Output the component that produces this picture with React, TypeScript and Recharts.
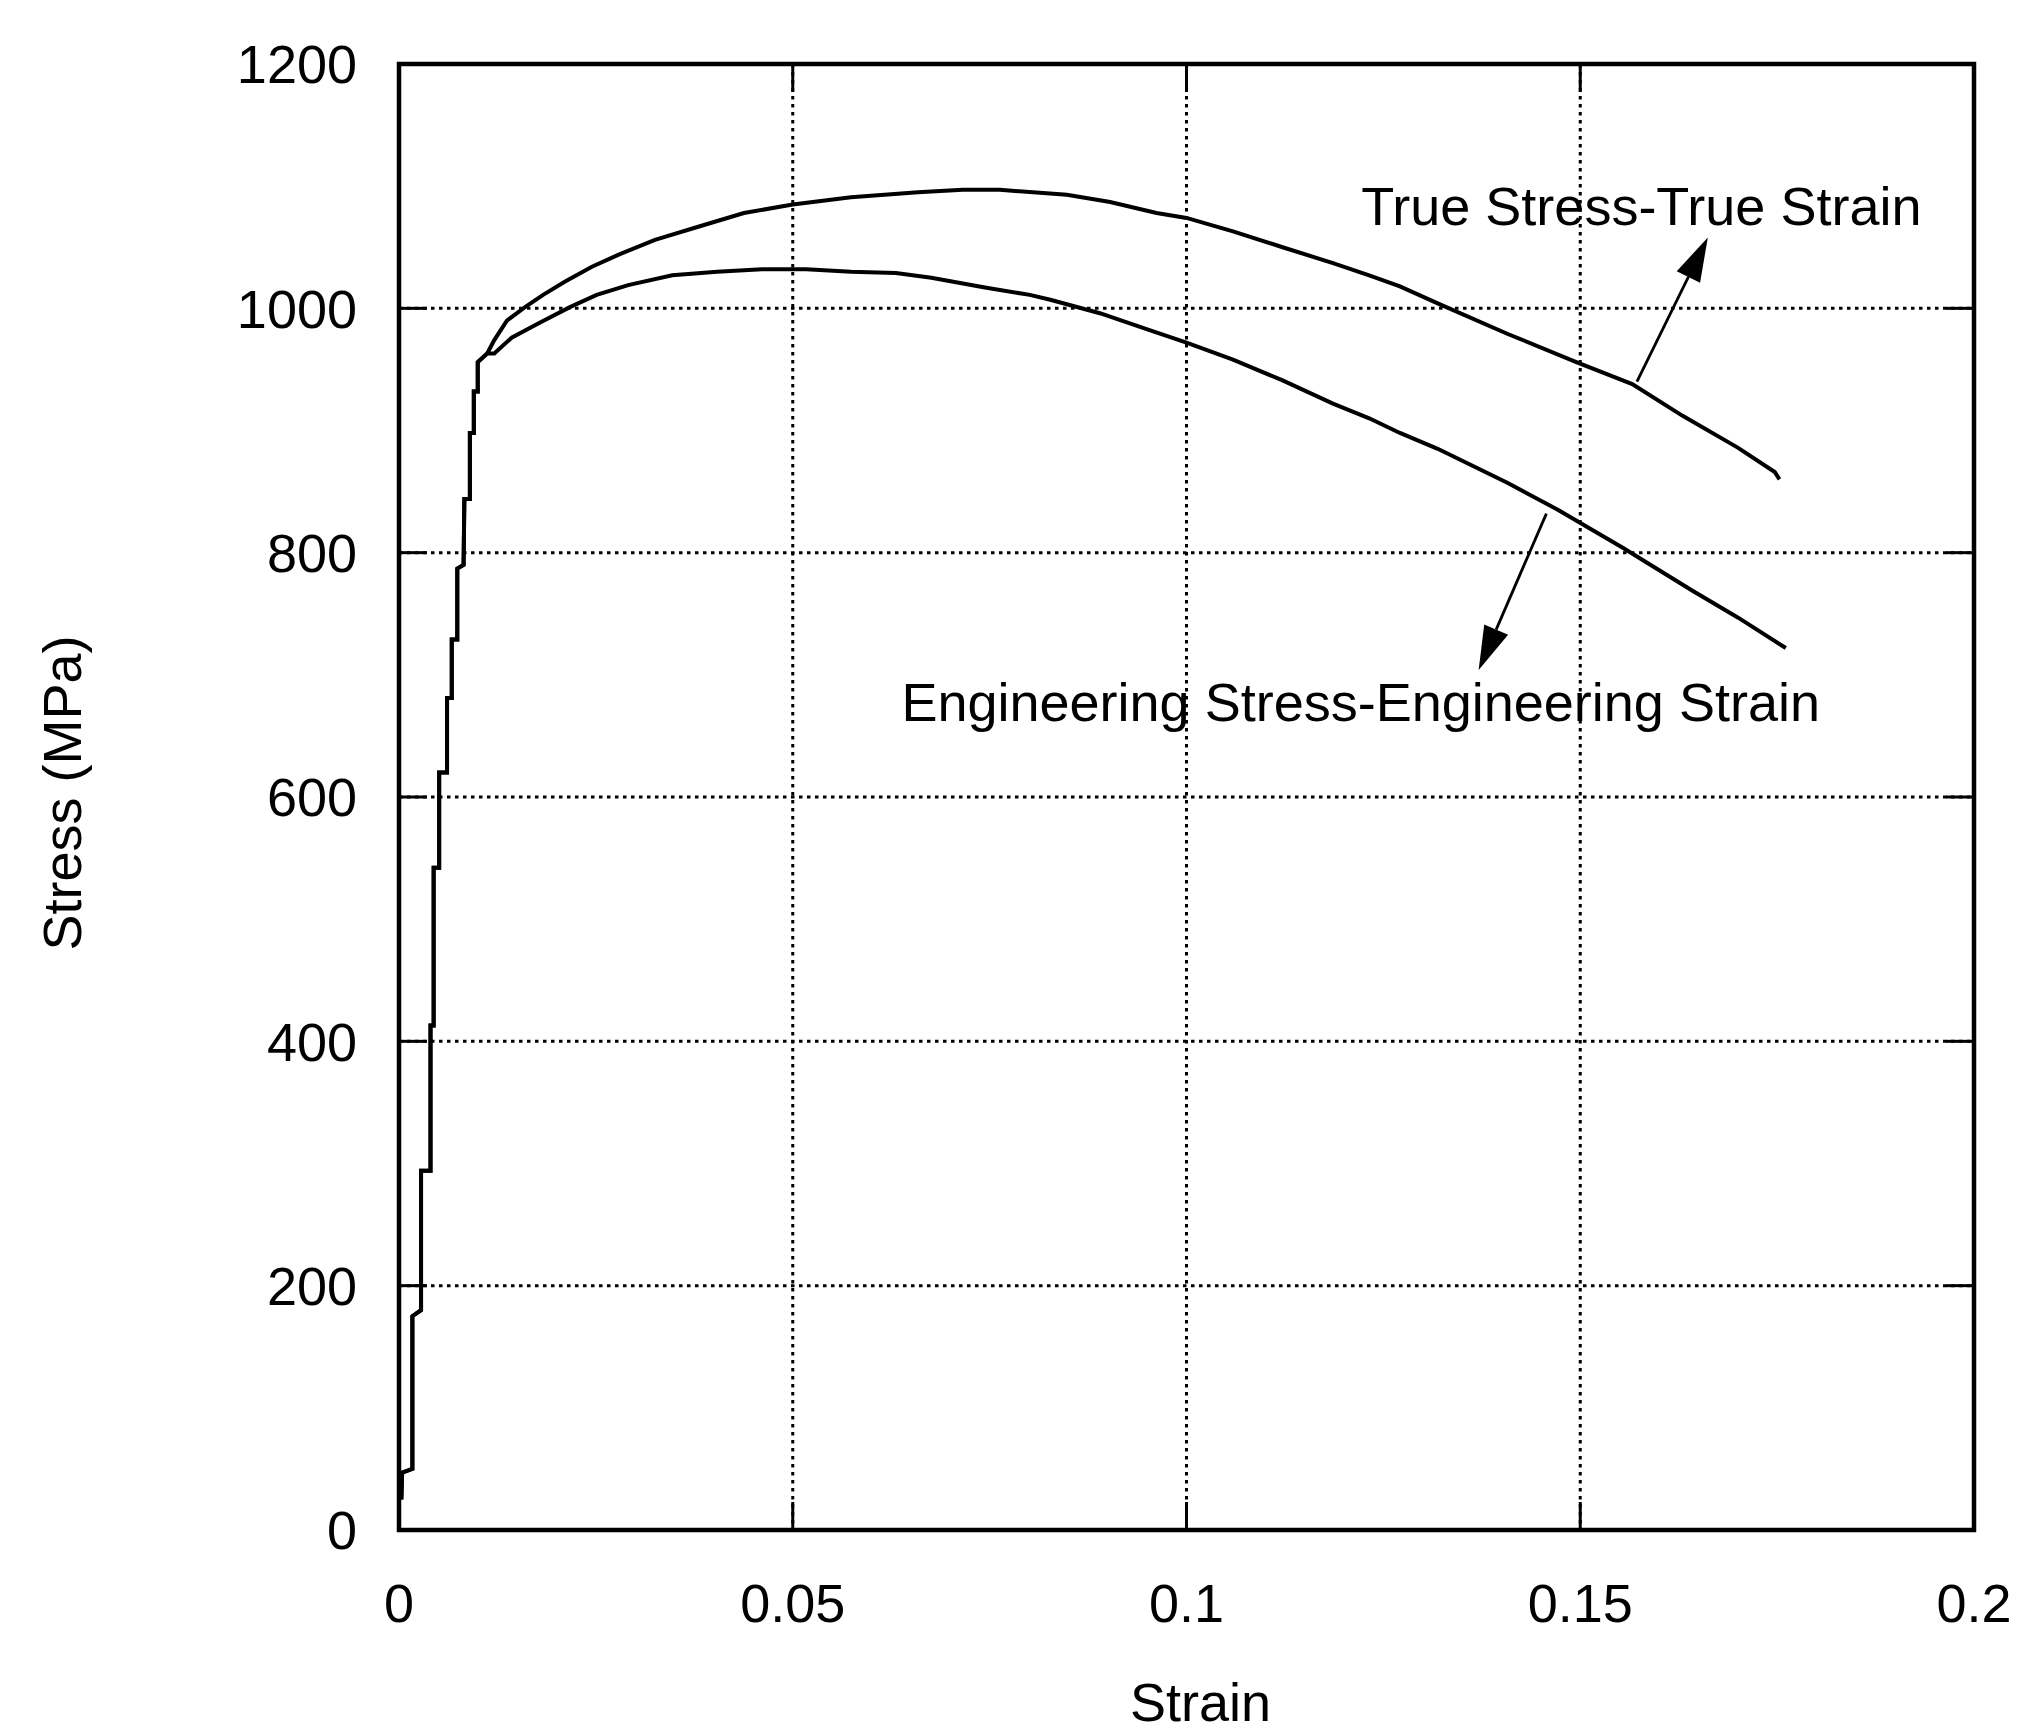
import {
  LineChart,
  Line,
  XAxis,
  YAxis,
  CartesianGrid,
  ReferenceArea,
  ReferenceLine,
  ReferenceDot
} from 'recharts'

const FONT = '"Liberation Sans", Arial, sans-serif'

// axis ticks
const xTicks = [0, 0.05, 0.1, 0.15, 0.2]
const yTicks = [0, 200, 400, 600, 800, 1000, 1200]
const innerXTicks = [0.05, 0.1, 0.15]
const innerYTicks = [200, 400, 600, 800, 1000]

// elastic part, shared by both curves (stepped, as in the scan)
const elasticStrain = [
  0.0003, 0.0004, 0.0017, 0.0017, 0.0028, 0.0028, 0.004, 0.004, 0.0044, 0.0044,
  0.0051, 0.0051, 0.0061, 0.0061, 0.0067, 0.0067, 0.0074, 0.0074, 0.0082, 0.0083,
  0.009, 0.009, 0.0095, 0.0095, 0.01, 0.01, 0.0112
]
const elasticStress = [
  25, 47, 50, 175, 180, 294, 294, 413, 413, 542,
  542, 620, 620, 681, 681, 729, 729, 787, 790, 844,
  844, 898, 898, 932, 932, 956, 963
]

// true stress - true strain, plastic part
const trueStrain = [
  0.0121, 0.0137, 0.016, 0.0183, 0.0211, 0.0245, 0.0279, 0.0325, 0.0381, 0.0438,
  0.05, 0.0574, 0.0659, 0.0716, 0.0763, 0.0848, 0.0903, 0.0962, 0.1, 0.1059,
  0.1122, 0.1186, 0.1232, 0.1271, 0.1319, 0.1408, 0.1495, 0.1566, 0.163, 0.17,
  0.1747, 0.1753
]
const trueStress = [
  974, 990, 1001, 1011, 1022, 1034, 1044, 1056, 1067, 1078,
  1085, 1091, 1095, 1097, 1097, 1093, 1087, 1078, 1074, 1063,
  1050, 1037, 1027, 1018, 1004, 979, 956, 938, 912, 886,
  866, 860
]

// engineering stress - engineering strain, plastic part
const engStrain = [
  0.0121, 0.0143, 0.0178, 0.0217, 0.0251, 0.0291, 0.0347, 0.0404, 0.0461, 0.0517,
  0.0574, 0.0631, 0.0676, 0.0744, 0.0801, 0.0827, 0.089, 0.0954, 0.1, 0.1059,
  0.1122, 0.1186, 0.1232, 0.1271, 0.1319, 0.1408, 0.1472, 0.1554, 0.1642, 0.17,
  0.1761
]
const engStress = [
  963, 976, 988, 1001, 1011, 1019, 1027, 1030, 1032, 1032,
  1030, 1029, 1025, 1017, 1011, 1007, 996, 982, 972, 958,
  941, 922, 910, 898, 885, 857, 835, 804, 769, 747,
  722
]

// annotations: [strain, stress]
const trueArrow = [[0.1572, 940], [0.1662, 1058]]
const engArrow = [[0.1457, 832], [0.1371, 704]]
const trueLabel = { strain: 0.1222, stress: 1068, text: 'True Stress-True Strain' }
const engLabel = { strain: 0.0638, stress: 662, text: 'Engineering Stress-Engineering Strain' }

const toRows = (xs: number[], ys: number[]) => xs.map((x, i) => ({ strain: x, stress: ys[i] }))

const trueData = toRows([...elasticStrain, ...trueStrain], [...elasticStress, ...trueStress])
const engData = toRows([...elasticStrain, ...engStrain], [...elasticStress, ...engStress])

const TICK_LEN = 28

const HTicks = (p: any) => (
  <g>
    <line x1={p.x1} y1={p.y1} x2={p.x1 + TICK_LEN} y2={p.y1} stroke="#000" strokeWidth={3} />
    <line x1={p.x2 - TICK_LEN} y1={p.y2} x2={p.x2} y2={p.y2} stroke="#000" strokeWidth={3} />
  </g>
)

const VTicks = (p: any) => {
  const top = Math.min(p.y1, p.y2)
  const bottom = Math.max(p.y1, p.y2)
  return (
    <g>
      <line x1={p.x1} y1={top} x2={p.x1} y2={top + TICK_LEN} stroke="#000" strokeWidth={3} />
      <line x1={p.x1} y1={bottom - TICK_LEN} x2={p.x1} y2={bottom} stroke="#000" strokeWidth={3} />
    </g>
  )
}

const Arrow = (p: any) => {
  const dx = p.x2 - p.x1
  const dy = p.y2 - p.y1
  const len = Math.sqrt(dx * dx + dy * dy)
  const ux = dx / len
  const uy = dy / len
  const head = 44
  const half = 13
  const bx = p.x2 - ux * head
  const by = p.y2 - uy * head
  return (
    <g>
      <line x1={p.x1} y1={p.y1} x2={bx} y2={by} stroke="#000" strokeWidth={2.8} />
      <polygon
        points={`${p.x2},${p.y2} ${bx - uy * half},${by + ux * half} ${bx + uy * half},${by - ux * half}`}
        fill="#000"
      />
    </g>
  )
}

const labelShape = (text: string) => (p: any) => (
  <text x={p.cx} y={p.cy} fontSize={54} fontFamily={FONT} fill="#000" textAnchor="start">
    {text}
  </text>
)

export default function App() {
  return (
    <div style={{ position: 'absolute', left: 0, top: 0, width: 2023, height: 1736, background: '#fff' }}>
      <LineChart width={2023} height={1736} margin={{ top: 64, right: 49, bottom: 0, left: 0 }}>
        <CartesianGrid stroke="#000" strokeWidth={3} strokeDasharray="3.5 4.5" />
        <XAxis
          type="number"
          dataKey="strain"
          domain={[0, 0.2]}
          ticks={xTicks}
          allowDataOverflow
          height={206}
          axisLine={false}
          tickLine={false}
          tickSize={0}
          tickMargin={54}
          tick={{ fontSize: 54, fill: '#000', fontFamily: FONT }}
          label={{
            content: (lp: any) => {
              const vb = lp.viewBox
              return (
                <text x={vb.x + vb.width / 2 + 14} y={1702} fontSize={54} fontFamily={FONT} fill="#000"
                  textAnchor="middle" dominantBaseline="central">
                  Strain
                </text>
              )
            }
          }}
        />
        <YAxis
          type="number"
          domain={[0, 1200]}
          ticks={yTicks}
          allowDataOverflow
          width={399}
          axisLine={false}
          tickLine={false}
          tickSize={0}
          tickMargin={42}
          tick={{ fontSize: 54, fill: '#000', fontFamily: FONT }}
          label={{
            content: (lp: any) => {
              const vb = lp.viewBox
              const cx = vb.x + 62
              const cy = vb.y + vb.height / 2 - 4
              return (
                <text x={cx} y={cy} fontSize={54} fontFamily={FONT} fill="#000" textAnchor="middle"
                  dominantBaseline="central" transform={`rotate(-90 ${cx} ${cy})`}>
                  Stress (MPa)
                </text>
              )
            }
          }}
        />
        {innerYTicks.map((v) => (
          <ReferenceLine key={'h' + v} y={v} shape={HTicks} />
        ))}
        {innerXTicks.map((v) => (
          <ReferenceLine key={'v' + v} x={v} shape={VTicks} />
        ))}
        <ReferenceArea x1={0} x2={0.2} y1={0} y2={1200} fill="none" stroke="#000" strokeWidth={4.5} ifOverflow="visible" />
        <Line data={trueData} dataKey="stress" type="linear" dot={false} stroke="#000" strokeWidth={4} isAnimationActive={false} />
        <Line data={engData} dataKey="stress" type="linear" dot={false} stroke="#000" strokeWidth={4} isAnimationActive={false} />
        <ReferenceLine
          segment={[{ x: trueArrow[0][0], y: trueArrow[0][1] }, { x: trueArrow[1][0], y: trueArrow[1][1] }]}
          shape={Arrow}
        />
        <ReferenceLine
          segment={[{ x: engArrow[0][0], y: engArrow[0][1] }, { x: engArrow[1][0], y: engArrow[1][1] }]}
          shape={Arrow}
        />
        <ReferenceDot x={trueLabel.strain} y={trueLabel.stress} r={1} shape={labelShape(trueLabel.text)} />
        <ReferenceDot x={engLabel.strain} y={engLabel.stress} r={1} shape={labelShape(engLabel.text)} />
      </LineChart>
    </div>
  )
}
